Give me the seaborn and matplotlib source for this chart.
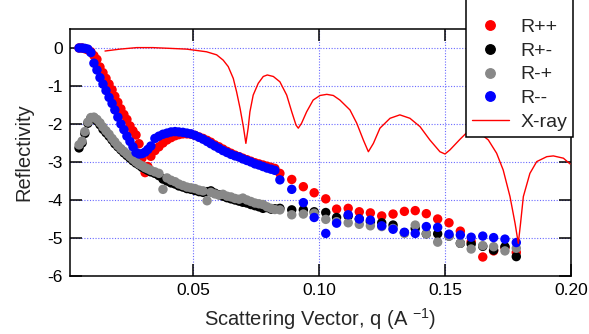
import matplotlib
matplotlib.use("Agg")
import matplotlib.pyplot as plt
from matplotlib.lines import Line2D
import pandas as pd
import seaborn as sns

# scattering vector grid shared by the four neutron channels
q = [0.0048, 0.0060, 0.0071, 0.0083, 0.0095, 0.0107, 0.0119, 0.0131, 0.0143, 0.0155,
     0.0167, 0.0179, 0.0190, 0.0202, 0.0214, 0.0226, 0.0238, 0.0250, 0.0262, 0.0274,
     0.0286, 0.0298, 0.0310, 0.0321, 0.0333, 0.0349, 0.0365, 0.0381, 0.0397, 0.0413,
     0.0429, 0.0444, 0.0460, 0.0476, 0.0492, 0.0508, 0.0524, 0.0540, 0.0556, 0.0571,
     0.0587, 0.0603, 0.0619, 0.0635, 0.0651, 0.0667, 0.0683, 0.0698, 0.0714, 0.0730,
     0.0746, 0.0762, 0.0778, 0.0794, 0.0810, 0.0825,
     0.0845, 0.0892, 0.0938, 0.0981, 0.1027, 0.1070, 0.1116, 0.1160, 0.1204, 0.1249,
     0.1294, 0.1339, 0.1382, 0.1426, 0.1471, 0.1516, 0.1561, 0.1604, 0.1650, 0.1693,
     0.1738, 0.1783]

r_pp = [0.00, 0.00, -0.02, -0.05, -0.10, -0.20, -0.30, -0.50, -0.65, -0.80,
        -0.95, -1.10, -1.27, -1.43, -1.60, -1.75, -1.88, -2.05, -2.18, -2.29,
        -2.52, -2.90, -3.28, -3.12, -2.85, -2.70, -2.60, -2.50, -2.42, -2.36,
        -2.31, -2.28, -2.26, -2.26, -2.27, -2.30, -2.34, -2.38, -2.43, -2.48,
        -2.55, -2.60, -2.66, -2.72, -2.77, -2.82, -2.86, -2.90, -2.94, -2.98,
        -3.02, -3.05, -3.08, -3.11, -3.14, -3.17,
        -3.30, -3.46, -3.65, -3.81, -3.97, -4.24, -4.22, -4.31, -4.34, -4.42,
        -4.37, -4.30, -4.28, -4.36, -4.50, -4.60, -4.82, -5.10, -5.50, -5.34,
        -5.25, -5.38]

r_pm = [-2.63, -2.50, -2.25, -1.98, -1.85, -1.84, -1.92, -2.02, -2.14, -2.23,
        -2.32, -2.42, -2.52, -2.60, -2.68, -2.76, -2.83, -2.90, -2.97, -3.03,
        -3.08, -3.14, -3.18, -3.22, -3.26, -3.30, -3.36, -3.45, -3.50, -3.55,
        -3.58, -3.63, -3.66, -3.70, -3.72, -3.75, -3.78, -3.80, -3.78, -3.76,
        -3.82, -3.86, -3.90, -3.94, -3.97, -4.00, -4.03, -4.06, -4.08, -4.12,
        -4.15, -4.18, -4.22, -4.20, -4.24, -4.23,
        -4.22, -4.26, -4.26, -4.31, -4.33, -4.46, -4.42, -4.50, -4.57, -4.60,
        -4.66, -4.86, -4.75, -4.89, -4.89, -4.95, -5.14, -5.16, -5.22, -5.32,
        -5.23, -5.49]

r_mp = [-2.55, -2.45, -2.20, -1.95, -1.83, -1.82, -1.88, -1.97, -2.08, -2.18,
        -2.27, -2.38, -2.47, -2.57, -2.65, -2.72, -2.79, -2.86, -2.93, -3.00,
        -3.06, -3.10, -3.15, -3.18, -3.22, -3.26, -3.30, -3.72, -3.42, -3.48,
        -3.52, -3.58, -3.62, -3.66, -3.68, -3.70, -3.74, -3.76, -4.02, -3.80,
        -3.84, -3.87, -3.85, -3.90, -3.92, -3.96, -3.98, -3.95, -4.00, -4.04,
        -4.08, -4.10, -4.12, -4.18, -4.22, -4.25,
        -4.26, -4.39, -4.37, -4.35, -4.51, -4.57, -4.60, -4.64, -4.68, -4.70,
        -4.75, -4.88, -4.66, -4.89, -5.11, -4.95, -5.14, -5.29, -5.20, -5.23,
        -5.34, -5.27]

r_mm = [0.00, 0.00, -0.01, -0.03, -0.12, -0.40, -0.58, -0.78, -0.95, -1.12,
        -1.30, -1.46, -1.63, -1.82, -2.00, -2.15, -2.32, -2.46, -2.60, -2.75,
        -2.79, -2.78, -2.74, -2.67, -2.58, -2.38, -2.32, -2.27, -2.24, -2.21,
        -2.20, -2.21, -2.22, -2.24, -2.26, -2.30, -2.35, -2.40, -2.46, -2.52,
        -2.58, -2.64, -2.70, -2.75, -2.80, -2.84, -2.87, -2.92, -2.96, -3.00,
        -3.05, -3.08, -3.12, -3.16, -3.19, -3.22,
        -3.47, -3.72, -4.07, -4.46, -4.88, -4.61, -4.39, -4.50, -4.53, -4.68,
        -4.77, -4.85, -4.88, -4.70, -4.72, -4.90, -4.92, -4.98, -4.95, -4.99,
        -5.03, -5.12]

xray_q = [0.0151, 0.0210, 0.0277, 0.0341, 0.0409, 0.0475, 0.0554, 0.0594, 0.0620, 0.0640,
          0.0660, 0.0673, 0.0687, 0.0700, 0.0710, 0.0719, 0.0726, 0.0739, 0.0759, 0.0779,
          0.0795, 0.0819, 0.0845, 0.0872, 0.0892, 0.0909, 0.0918, 0.0931, 0.0951, 0.0977,
          0.1004, 0.1031, 0.1057, 0.1083, 0.1123, 0.1150, 0.1176, 0.1196, 0.1216, 0.1242,
          0.1282, 0.1321, 0.1361, 0.1401, 0.1440, 0.1480, 0.1500, 0.1520, 0.1560, 0.1583,
          0.1607, 0.1631, 0.1655, 0.1672, 0.1705, 0.1731, 0.1758, 0.1778, 0.1791, 0.1800,
          0.1811, 0.1837, 0.1864, 0.1904, 0.1930, 0.1970, 0.1996]
xray_r = [-0.08, -0.03, 0.01, 0.01, -0.01, -0.03, -0.10, -0.18, -0.32, -0.49,
          -0.80, -1.15, -1.59, -2.07, -2.51, -2.11, -1.68, -1.24, -0.93, -0.75,
          -0.71, -0.75, -0.89, -1.24, -1.68, -2.03, -2.11, -1.98, -1.68, -1.37,
          -1.25, -1.22, -1.25, -1.37, -1.63, -1.98, -2.42, -2.73, -2.51, -2.11,
          -1.85, -1.76, -1.85, -2.07, -2.42, -2.73, -2.79, -2.68, -2.40, -2.25,
          -2.17, -2.20, -2.33, -2.42, -2.77, -3.21, -3.91, -4.61, -5.14, -4.61,
          -3.91, -3.30, -2.99, -2.86, -2.84, -2.90, -3.05]

labels = ["R++", "R+-", "R-+", "R--"]
colors = {"R++": "#ff0000", "R+-": "#000000", "R-+": "#888888", "R--": "#0000ff"}

sns.set_style("ticks")
plt.rcParams["font.family"] = ["Liberation Sans", "DejaVu Sans"]
plt.rcParams["axes.unicode_minus"] = False
plt.rcParams["mathtext.fontset"] = "custom"
plt.rcParams["mathtext.rm"] = "Liberation Sans"
plt.rcParams["mathtext.default"] = "regular"

df = pd.DataFrame({
    "q": q * 4,
    "R": r_pp + r_pm + r_mp + r_mm,
    "spin": [lab for lab in labels for _ in q],
})

fig = plt.figure(figsize=(5.89, 3.34), dpi=100)
ax = fig.add_axes([0.1188, 0.1737, 0.8506, 0.7395])

sns.scatterplot(data=df, x="q", y="R", hue="spin", palette=colors, s=46,
                linewidth=0, legend=False, ax=ax, zorder=3)
sns.lineplot(x=xray_q, y=xray_r, color="#ff0000", lw=1.0, sort=False,
             estimator=None, ax=ax, zorder=4)

ax.set_xlim(0.0012, 0.20)
ax.set_ylim(-6, 0.5)
ax.set_xticks([0.05, 0.10, 0.15, 0.20])
ax.set_xticklabels(["0.05", "0.10", "0.15", "0.20"])
ax.set_yticks(range(-6, 1))
ax.grid(True, color="#6a6aff", linestyle=(0, (1, 1.5)), linewidth=0.8)
ax.set_axisbelow(True)

ax.tick_params(direction="in", length=8.6, width=1.1, top=True, right=True,
               labelsize=12.5, pad=5, colors="black")
for sp in ax.spines.values():
    sp.set_linewidth(1.1)
    sp.set_color("black")

ax.set_xlabel("Scattering Vector, q (A $^{-1}$)", fontsize=14.5, labelpad=6)
ax.set_ylabel("Reflectivity", fontsize=14.5, labelpad=10)

handles = [Line2D([], [], marker="o", ls="none", color=colors[lab], markersize=6.8)
           for lab in labels]
handles.append(Line2D([], [], color="#ff0000", lw=1.0))
# blank title pushes the top of the box past the figure edge, as in the original
leg = ax.legend(handles, labels + ["X-ray"], loc="lower right", title=" ",
                title_fontsize=14, bbox_to_anchor=(1.004, 0.563), frameon=True,
                fancybox=False, edgecolor="black", framealpha=1, fontsize=14,
                handlelength=1.9, handletextpad=0.6, labelspacing=0.32,
                borderpad=0.3, borderaxespad=0)
leg.get_frame().set_linewidth(1.1)
leg.set_zorder(10)

fig.savefig("out.png", dpi=100)
